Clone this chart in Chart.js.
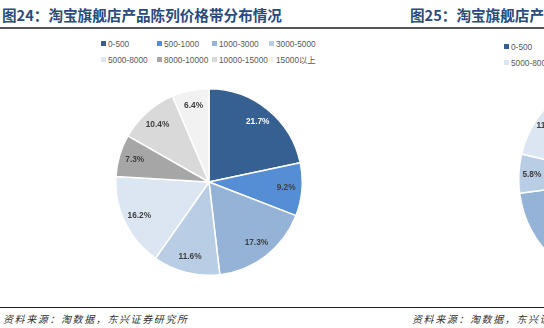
<!DOCTYPE html>
<html lang="zh">
<head>
<meta charset="UTF-8">
<title>淘宝旗舰店产品陈列价格带分布情况</title>
<script src="https://cdn.jsdelivr.net/npm/chart.js"></script>
<style>
    html, body { margin: 0; padding: 0; background: #fff; }
    body { width: 544px; height: 328px; position: relative; overflow: hidden; font-family: "Noto Sans CJK SC", sans-serif; }
    .title { position: absolute; top: 5px; font-size: 14.6px; line-height: 20px; font-weight: bold; color: #2a4b7c; white-space: nowrap; }
    .rule-top { position: absolute; left: 0; top: 27px; width: 544px; height: 2px; background: #555; }
    .rule-bottom { position: absolute; left: 0; top: 307px; width: 544px; height: 1px; background: #222; }
    .source { position: absolute; top: 311px; font-size: 10px; line-height: 16px; font-style: italic; color: #333; letter-spacing: 1.6px; white-space: nowrap; }
    .legend-item { position: absolute; font-family: "Liberation Sans", "Noto Sans CJK SC", sans-serif; font-size: 8.3px; line-height: 10px; color: #595959; white-space: nowrap; }
    .legend-item i { display: inline-block; width: 5px; height: 5px; margin-right: 2px; vertical-align: 1px; }
    .pie { position: absolute; }
</style>
</head>
<body>
    <div class="title" style="left:2px">图24：淘宝旗舰店产品陈列价格带分布情况</div>
    <div class="title" style="left:410px">图25：淘宝旗舰店产品陈列价格带分布情况</div>
    <div class="rule-top"></div>

    <div id="legend24"></div>
    <div id="legend25"></div>

    <div class="pie" style="left:115px; top:88px; width:188px; height:188px"><canvas id="pie24"></canvas></div>
    <div class="pie" style="left:518px; top:70px; width:218px; height:218px"><canvas id="pie25"></canvas></div>

    <div class="rule-bottom"></div>
    <div class="source" style="left:3px">资料来源：淘数据，东兴证券研究所</div>
    <div class="source" style="left:412px">资料来源：淘数据，东兴证券研究所</div>

<script>
// ценовые диапазоны (价格带)
const categories = ['0-500', '500-1000', '1000-3000', '3000-5000', '5000-8000', '8000-10000', '10000-15000', '15000以上'];
// 图24, %
const shares24 = [21.7, 9.2, 17.3, 11.6, 16.2, 7.3, 10.4, 6.4];
// 图25, % (видна только левая часть круга, остальное — оценка)
const shares25 = [35.2, 14.5, 23.2, 5.8, 11.5, 4.1, 3.6, 2.1];

const sliceColors = ['#366092', '#558ed5', '#95b3d7', '#b9cde5', '#dce6f2', '#a6a6a6', '#d9d9d9', '#f2f2f2'];
const labelColors = ['#ffffff', '#404040', '#404040', '#404040', '#404040', '#404040', '#404040', '#404040'];

// легенда: 4 колонки, 2 строки
function buildLegend(el, x0, y0) {
    const colX = [0, 56, 111, 168];
    const rowY = [0, 16];
    categories.forEach((name, i) => {
        const d = document.createElement('div');
        d.className = 'legend-item';
        d.style.left = (x0 + colX[i % 4]) + 'px';
        d.style.top = (y0 + rowY[Math.floor(i / 4)]) + 'px';
        d.innerHTML = '<i style="background:' + sliceColors[i] + '"></i>' + name;
        el.appendChild(d);
    });
}
buildLegend(document.getElementById('legend24'), 101, 39);
buildLegend(document.getElementById('legend25'), 504, 42);

// подписи процентов внутри секторов
const pctLabels = {
    id: 'pctLabels',
    afterDatasetsDraw(chart, args, opts) {
        const ctx = chart.ctx;
        const values = chart.data.datasets[0].data;
        ctx.save();
        ctx.font = 'bold 8.3px "Liberation Sans", sans-serif';
        ctx.textAlign = 'center';
        ctx.textBaseline = 'middle';
        chart.getDatasetMeta(0).data.forEach((arc, i) => {
            const p = arc.getProps(['x', 'y', 'startAngle', 'endAngle', 'outerRadius'], true);
            const mid = (p.startAngle + p.endAngle) / 2;
            const r = p.outerRadius * opts.at;
            ctx.fillStyle = labelColors[i];
            ctx.fillText(values[i].toFixed(1) + '%', p.x + Math.cos(mid) * r, p.y + Math.sin(mid) * r);
        });
        ctx.restore();
    }
};

function drawPie(id, values, at) {
    new Chart(document.getElementById(id), {
        type: 'pie',
        data: {
            labels: categories,
            datasets: [{
                data: values,
                backgroundColor: sliceColors,
                borderColor: '#ffffff',
                borderWidth: 1.5
            }]
        },
        options: {
            responsive: true,
            maintainAspectRatio: false,
            animation: false,
            layout: { padding: 0 },
            plugins: {
                legend: { display: false },
                tooltip: { enabled: false },
                pctLabels: { at }
            }
        },
        plugins: [pctLabels]
    });
}

drawPie('pie24', shares24, 0.83);
drawPie('pie25', shares25, 0.88);
</script>
</body>
</html>
